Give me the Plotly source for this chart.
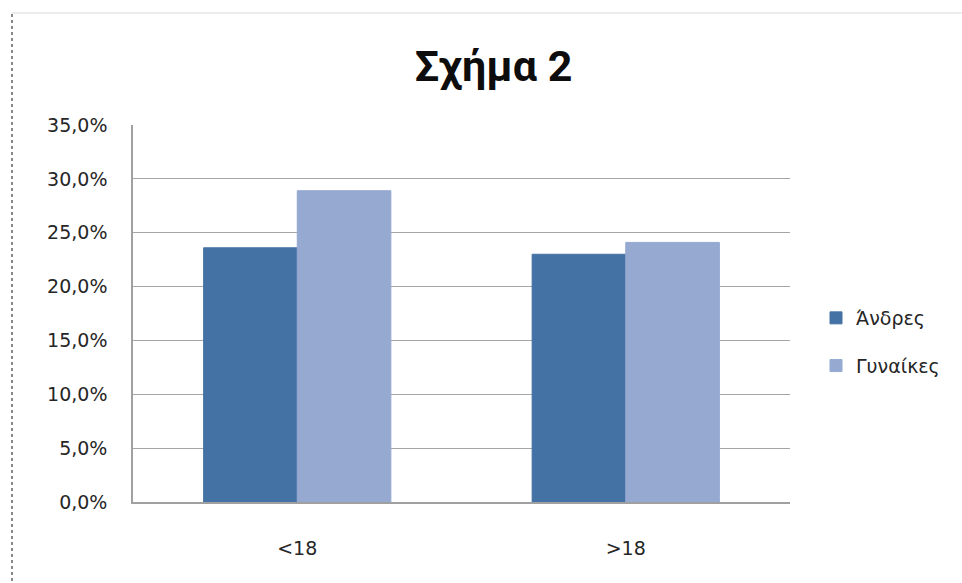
import plotly.graph_objects as go

categories = ["<18", ">18"]
andres = [0.236, 0.230]
gynaikes = [0.289, 0.241]
series_names = ["Άνδρες", "Γυναίκες"]
colors = ["#4472A4", "#95A9D1"]
y_ticks = [0, 0.05, 0.10, 0.15, 0.20, 0.25, 0.30, 0.35]
y_tick_labels = ["0,0%", "5,0%", "10,0%", "15,0%", "20,0%", "25,0%", "30,0%", "35,0%"]

fig = go.Figure()
for name, vals, col in zip(series_names, [andres, gynaikes], colors):
    fig.add_trace(go.Bar(x=categories, y=vals, name=name, legendgroup=name,
                         marker=dict(color=col, line=dict(color=col, width=1))))

W, H = 962, 583
L, R, T, B = 133, 172, 125, 81
pw, ph = W - L - R, H - T - B

def px_x(x):
    return (x - L) / pw

def px_y(y):
    return (H - B - y) / ph

TXT = "#262626"
fig.update_layout(
    width=W, height=H,
    margin=dict(l=L, r=R, t=T, b=B),
    paper_bgcolor="white", plot_bgcolor="white",
    barmode="group", bargap=0.43, bargroupgap=0,
    font=dict(family="DejaVu Sans", size=19, color=TXT),
    title=dict(text="<b>Σχήμα 2</b>", xref="container", x=493.5 / W, xanchor="center",
               y=1 - 66 / H, yanchor="middle",
               font=dict(size=43, color="#0d0d0d", family="Roboto")),
    xaxis=dict(showline=True, linecolor="#a0a0a0", linewidth=1.5, showgrid=False,
               ticks="", ticklabelstandoff=28, tickfont=dict(size=19, color=TXT)),
    yaxis=dict(range=[0, 0.35], tickvals=y_ticks, ticktext=y_tick_labels,
               showline=True, linecolor="#a0a0a0", linewidth=1.5,
               showgrid=True, gridcolor="#a6a6a6", gridwidth=1.2,
               ticks="", ticklabelstandoff=20, tickfont=dict(size=19, color=TXT),
               zeroline=False),
    legend=dict(x=px_x(816), xanchor="left", y=px_y(342), yanchor="middle",
                font=dict(size=19, color=TXT), tracegroupgap=20,
                itemwidth=30, bgcolor="rgba(0,0,0,0)"),
    showlegend=True,
)

# frame: dashed left border and faint top line
fig.add_shape(type="line", xref="paper", yref="paper",
              x0=px_x(12), x1=px_x(12), y0=px_y(14), y1=px_y(583),
              line=dict(color="#888888", width=2, dash="dot"))
fig.add_shape(type="line", xref="paper", yref="paper",
              x0=px_x(12), x1=px_x(962), y0=px_y(13), y1=px_y(13),
              line=dict(color="#e6e6e6", width=1.5))

fig.write_html("out.html")
